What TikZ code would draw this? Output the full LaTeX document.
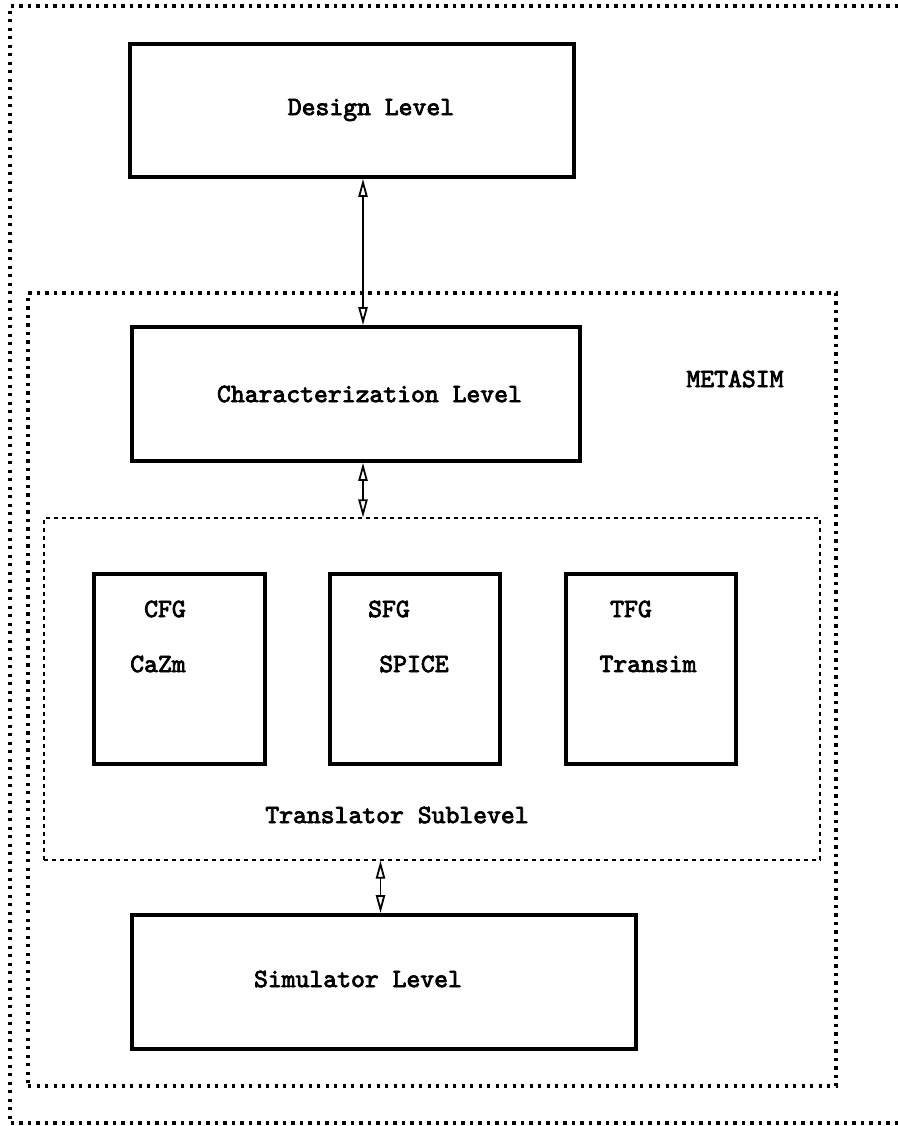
\documentclass[tikz,border=0pt]{standalone}
\usepackage{fontspec}
\setmonofont{lmmono10-regular.otf}[BoldFont=lmmono10-regular.otf, BoldFeatures={FakeBold=3}]
\usetikzlibrary{arrows.meta}
\begin{document}
\begin{tikzpicture}[x=0.5pt,y=-0.5pt,
  every node/.style={font=\fontsize{13.2pt}{15pt}\ttfamily\bfseries, inner sep=0pt},
  levelbox/.style={draw, line width=1.9pt, rectangle},
  coarsedots/.style={line width=1.6pt, dash pattern=on 1.6pt off 2.65pt},
  finedash/.style={line width=0.6pt, dash pattern=on 2pt off 2pt},
  link/.style={line width=0.9pt, {Triangle[open,length=9pt,width=4.6pt]}-{Triangle[open,length=9pt,width=4.6pt]}}
]
\useasboundingbox (0,0) rectangle (898,1126);

% outer frame, open on the right
\draw[coarsedots] (898,6) -- (10,6) -- (10,1123) -- (898,1123);

% METASIM frame
\node[draw, coarsedots, rectangle, minimum width=404pt, minimum height=396.5pt] (metasim) at (432,689.5) {};
\node (metalabel) at (735,379) {METASIM};

% translator sublevel frame
\node[draw, finedash, rectangle, minimum width=388pt, minimum height=171pt] (trans) at (432,689) {};
\node (translabel) at (397,815) {Translator Sublevel};

% levels
\node[levelbox, minimum width=222pt, minimum height=66.5pt] (design) at (352,110.5) {};
\node (designlabel) at (371,110) {Design Level};

\node[levelbox, minimum width=224pt, minimum height=67pt] (char) at (356,394) {};
\node (charlabel) at (369.5,394) {Characterization Level};

\node[levelbox, minimum width=252pt, minimum height=67pt] (sim) at (384,982) {};
\node (simlabel) at (358,979) {Simulator Level};

% translators
\node[levelbox, minimum width=85.5pt, minimum height=95pt] (cfg) at (179.5,669) {};
\node (cfgname) at (165,609) {CFG};
\node (cfgtool) at (158,664) {CaZm};

\node[levelbox, minimum width=85pt, minimum height=95pt] (sfg) at (415,669) {};
\node (sfgname) at (389,609) {SFG};
\node (sfgtool) at (414,664) {SPICE};

\node[levelbox, minimum width=85pt, minimum height=95pt] (tfg) at (651,669) {};
\node (tfgname) at (631,609) {TFG};
\node (tfgtool) at (648,664) {Transim};

% connectors
\coordinate (upper) at (363,0);
\coordinate (lower) at (380.5,0);
\draw[link] (design.south -| upper) -- (char.north -| upper);
\draw[link] (char.south -| upper) -- (trans.north -| upper);
\draw[link] (trans.south -| lower) -- (sim.north -| lower);
\end{tikzpicture}
\end{document}
